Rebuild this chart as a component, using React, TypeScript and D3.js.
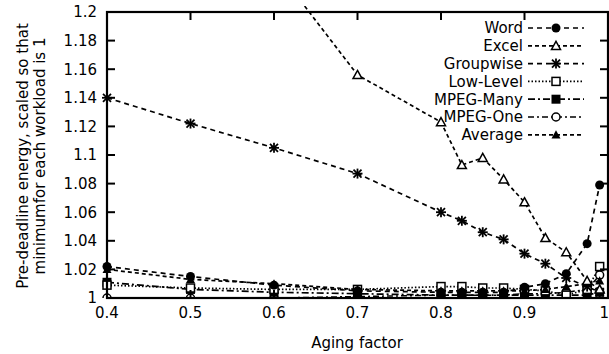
import React from "react";
import * as d3 from "d3";

const xs = [0.4, 0.5, 0.6, 0.7, 0.8, 0.825, 0.85, 0.875, 0.9, 0.925, 0.95, 0.975, 0.99];
const word = [1.022, 1.015, 1.009, 1.005, 1.004, 1.004, 1.004, 1.004, 1.0075, 1.01, 1.017, 1.038, 1.079];
const excel = [1.4, 1.31, 1.232, 1.156, 1.123, 1.093, 1.098, 1.083, 1.067, 1.042, 1.032, 1.012, 1.006];
const groupwise = [1.14, 1.122, 1.105, 1.087, 1.06, 1.054, 1.046, 1.041, 1.031, 1.024, 1.014, 1.008, 1.004];
const lowLevel = [1.009, 1.007, 1.006, 1.006, 1.008, 1.008, 1.007, 1.007, 1.006, 1.005, 1.002, 1.006, 1.022];
const mpegMany = [1.011, 1.006, 1.004, 1.003, 1.002, 1.002, 1.002, 1.002, 1.002, 1.002, 1.002, 1.002, 1.004];
const mpegOne = [1.0, 1.0, 1.0, 1.001, 1.002, 1.002, 1.002, 1.002, 1.003, 1.003, 1.004, 1.006, 1.016];
const average = [1.02, 1.013, 1.01, 1.006, 1.005, 1.005, 1.005, 1.005, 1.005, 1.006, 1.008, 1.01, 1.012];

const seriesNames = ["Word", "Excel", "Groupwise", "Low-Level", "MPEG-Many", "MPEG-One", "Average"];
const xTicks = [0.4, 0.5, 0.6, 0.7, 0.8, 0.9, 1];
const yTicks = [1, 1.02, 1.04, 1.06, 1.08, 1.1, 1.12, 1.14, 1.16, 1.18, 1.2];

const W = 609, H = 354;
const L = 107, R = 608, T = 12, B = 298;
const FONT = "'DejaVu Sans', Verdana, sans-serif";

const styles: Record<string, { dash: string; width: number; marker: string }> = {
  Word: { dash: "5,4", width: 1.7, marker: "fcircle" },
  Excel: { dash: "4,3", width: 1.7, marker: "otri" },
  Groupwise: { dash: "5,4", width: 1.7, marker: "star" },
  "Low-Level": { dash: "1.5,2", width: 1.7, marker: "osquare" },
  "MPEG-Many": { dash: "7,3,2,3", width: 1.7, marker: "fsquare" },
  "MPEG-One": { dash: "6,3,2,3", width: 1.5, marker: "ocircle" },
  Average: { dash: "4,3", width: 1.7, marker: "ftri" },
};

function Marker({ type, x, y }: { type: string; x: number; y: number }) {
  const s = 4.5;
  switch (type) {
    case "fcircle":
      return <circle cx={x} cy={y} r={4.5} fill="#000" />;
    case "ocircle":
      return <circle cx={x} cy={y} r={4} fill="#fff" stroke="#000" strokeWidth={1.5} />;
    case "otri":
      return (
        <path d={`M${x},${y - s}L${x + s},${y + s * 0.8}L${x - s},${y + s * 0.8}Z`} fill="#fff" stroke="#000" strokeWidth={1.5} />
      );
    case "ftri":
      return <path d={`M${x},${y - s}L${x + s},${y + s * 0.8}L${x - s},${y + s * 0.8}Z`} fill="#000" />;
    case "osquare":
      return <rect x={x - 4} y={y - 4} width={8} height={8} fill="#fff" stroke="#000" strokeWidth={1.5} />;
    case "fsquare":
      return <rect x={x - 4.5} y={y - 4.5} width={9} height={9} fill="#000" />;
    case "star":
      return (
        <g stroke="#000" strokeWidth={1.8}>
          <line x1={x - 5} y1={y} x2={x + 5} y2={y} />
          <line x1={x} y1={y - 5} x2={x} y2={y + 5} />
          <line x1={x - 4} y1={y - 4} x2={x + 4} y2={y + 4} />
          <line x1={x - 4} y1={y + 4} x2={x + 4} y2={y - 4} />
        </g>
      );
  }
  return null;
}

export default function App() {
  const x = d3.scaleLinear().domain([0.4, 1]).range([L, R]);
  const y = d3.scaleLinear().domain([1, 1.2]).range([B, T]);
  const data: Record<string, number[]> = {
    Word: word,
    Excel: excel,
    Groupwise: groupwise,
    "Low-Level": lowLevel,
    "MPEG-Many": mpegMany,
    "MPEG-One": mpegOne,
    Average: average,
  };
  const line = d3
    .line<number>()
    .x((_, i) => x(xs[i]))
    .y((d) => y(d));
  const drawOrder = ["MPEG-One", "MPEG-Many", "Low-Level", "Average", "Groupwise", "Excel", "Word"];
  const legX = 523;
  const legY0 = 28;
  const legDy = 17.8;
  return (
    <svg width={W} height={H} style={{ position: "absolute", left: 0, top: 0, background: "#fff" }} fontFamily={FONT}>
      <defs>
        <clipPath id="plot">
          <rect x={L - 6} y={T - 6} width={R - L + 12} height={B - T + 6} />
        </clipPath>
      </defs>
      <rect width={W} height={H} fill="#fff" />
      <g clipPath="url(#plot)">
        {drawOrder.map((name) => (
          <path
            key={name}
            d={line(data[name]) || ""}
            fill="none"
            stroke="#000"
            strokeWidth={styles[name].width}
            strokeDasharray={styles[name].dash}
          />
        ))}
        {drawOrder.map((name) =>
          data[name].map((v, i) =>
            v <= 1.2 ? <Marker key={name + i} type={styles[name].marker} x={x(xs[i])} y={y(v)} /> : null
          )
        )}
      </g>
      <rect x={L} y={T} width={R - L} height={B - T} fill="none" stroke="#000" strokeWidth={2.2} />
      {yTicks.map((t) => (
        <g key={"y" + t}>
          <line x1={L} x2={L + 8} y1={y(t)} y2={y(t)} stroke="#000" strokeWidth={2} />
          <line x1={R - 8} x2={R} y1={y(t)} y2={y(t)} stroke="#000" strokeWidth={2} />
          <text x={97} y={y(t)} dy="0.36em" textAnchor="end" fontSize={15}>
            {d3.format("")(t)}
          </text>
        </g>
      ))}
      {xTicks.map((t) => (
        <g key={"x" + t}>
          <line x1={x(t)} x2={x(t)} y1={B} y2={B - 8} stroke="#000" strokeWidth={2} />
          <line x1={x(t)} x2={x(t)} y1={T} y2={T + 8} stroke="#000" strokeWidth={2} />
          <text
            x={t === 1 ? W : x(t)}
            y={B + 20}
            textAnchor={t === 1 ? "end" : "middle"}
            fontSize={15}
          >
            {d3.format("")(t)}
          </text>
        </g>
      ))}
      <text x={357} y={348} textAnchor="middle" fontSize={15}>
        Aging factor
      </text>
      <g transform="translate(0,156) rotate(-90)">
        <text x={0} y={28} textAnchor="middle" fontSize={15}>
          Pre-deadline energy, scaled so that
        </text>
        <text x={0} y={45} textAnchor="middle" fontSize={15}>
          minimumfor each workload is 1
        </text>
      </g>
      {seriesNames.map((name, i) => {
        const ly = legY0 + i * legDy;
        return (
          <g key={"leg" + name}>
            <text x={legX} y={ly} dy="0.36em" textAnchor="end" fontSize={15}>
              {name}
            </text>
            <line
              x1={528}
              x2={584}
              y1={ly}
              y2={ly}
              stroke="#000"
              strokeWidth={styles[name].width}
              strokeDasharray={styles[name].dash}
            />
            <Marker type={styles[name].marker} x={556} y={ly} />
          </g>
        );
      })}
    </svg>
  );
}
